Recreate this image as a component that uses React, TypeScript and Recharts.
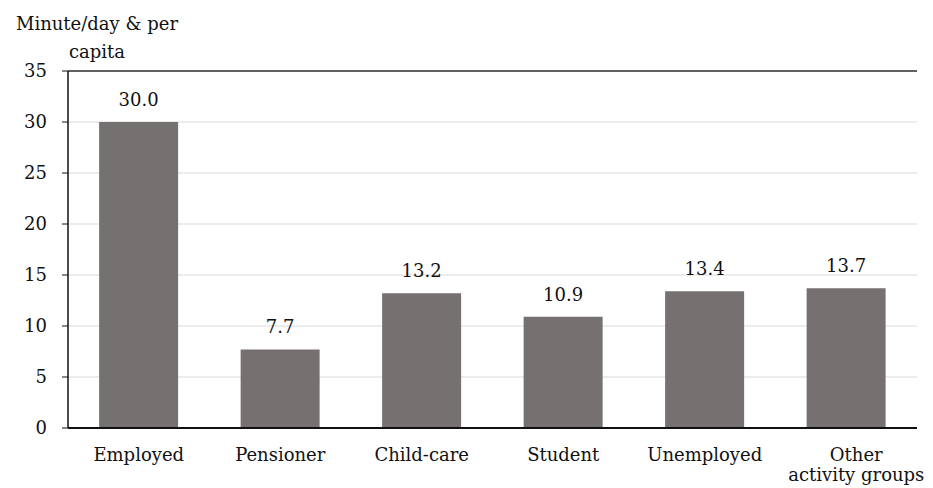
import { BarChart, Bar, XAxis, YAxis, CartesianGrid, LabelList, ReferenceLine } from "recharts";

const categories = ["Employed", "Pensioner", "Child-care", "Student", "Unemployed", "Other\nactivity groups"];
const minutes = [30.0, 7.7, 13.2, 10.9, 13.4, 13.7];
const yTicks = [0, 5, 10, 15, 20, 25, 30, 35];
const edgeTicks = [0, 1, 2, 3, 4, 5, 6];
const titleLines = ["Minute/day & per", "capita"];

const data = categories.map((name, i) => ({ name, value: minutes[i] }));

const FONT = "DejaVu Serif";
const INK = "#111";

function CategoryTick({ x, y, payload }: any) {
  const lines = String(payload.value).split("\n");
  // excel pushes the wrapped label to the right a bit
  const dx = lines.length > 1 ? 10 : 0;
  return (
    <text x={x + dx} y={y} textAnchor="middle" fontFamily={FONT} fontSize={18} fill={INK}>
      {lines.map((l, i) => (
        <tspan key={i} x={x + dx} dy={i === 0 ? "0.71em" : "1.1em"}>
          {l}
        </tspan>
      ))}
    </text>
  );
}

export default function App() {
  return (
    <div style={{ position: "absolute", left: 0, top: 0, width: 933, height: 488, background: "#fff" }}>
      <div
        style={{
          position: "absolute",
          left: 0,
          top: 10,
          width: 194,
          textAlign: "center",
          fontFamily: FONT,
          fontSize: 18,
          lineHeight: "28px",
          color: INK,
        }}
      >
        {titleLines.map((t) => (
          <div key={t}>{t}</div>
        ))}
      </div>
      <BarChart
        width={933}
        height={488}
        data={data}
        margin={{ top: 71, right: 16, bottom: 30, left: 8 }}
        barCategoryGap="22%"
      >
        <CartesianGrid vertical={false} stroke="#d9d9d9" strokeWidth={1} />
        <XAxis
          xAxisId="edge"
          type="number"
          domain={[0, 6]}
          ticks={edgeTicks}
          tickFormatter={() => ""}
          height={0}
          axisLine={false}
          tickLine={{ stroke: INK, strokeWidth: 1.5 }}
          tickSize={6}
        />
        <XAxis
          dataKey="name"
          height={30}
          interval={0}
          tick={<CategoryTick />}
          tickLine={false}
          tickSize={6}
          tickMargin={14}
          axisLine={{ stroke: INK, strokeWidth: 2 }}
        />
        <YAxis
          width={60}
          domain={[0, 35]}
          ticks={yTicks}
          interval={0}
          tick={{ fontFamily: FONT, fontSize: 18, fill: INK }}
          tickLine={{ stroke: INK }}
          tickSize={6}
          tickMargin={15}
          axisLine={{ stroke: INK, strokeWidth: 1.5 }}
        />
        <ReferenceLine y={35} stroke="#333" strokeWidth={1.5} />
        <ReferenceLine xAxisId="edge" x={6} stroke="#333" strokeWidth={1.5} />
        <Bar dataKey="value" fill="#767171" isAnimationActive={false}>
          <LabelList
            dataKey="value"
            position="top"
            offset={16}
            formatter={(v: any) => Number(v).toFixed(1)}
            style={{ fontFamily: FONT, fontSize: 18, fill: INK }}
          />
        </Bar>
      </BarChart>
    </div>
  );
}
